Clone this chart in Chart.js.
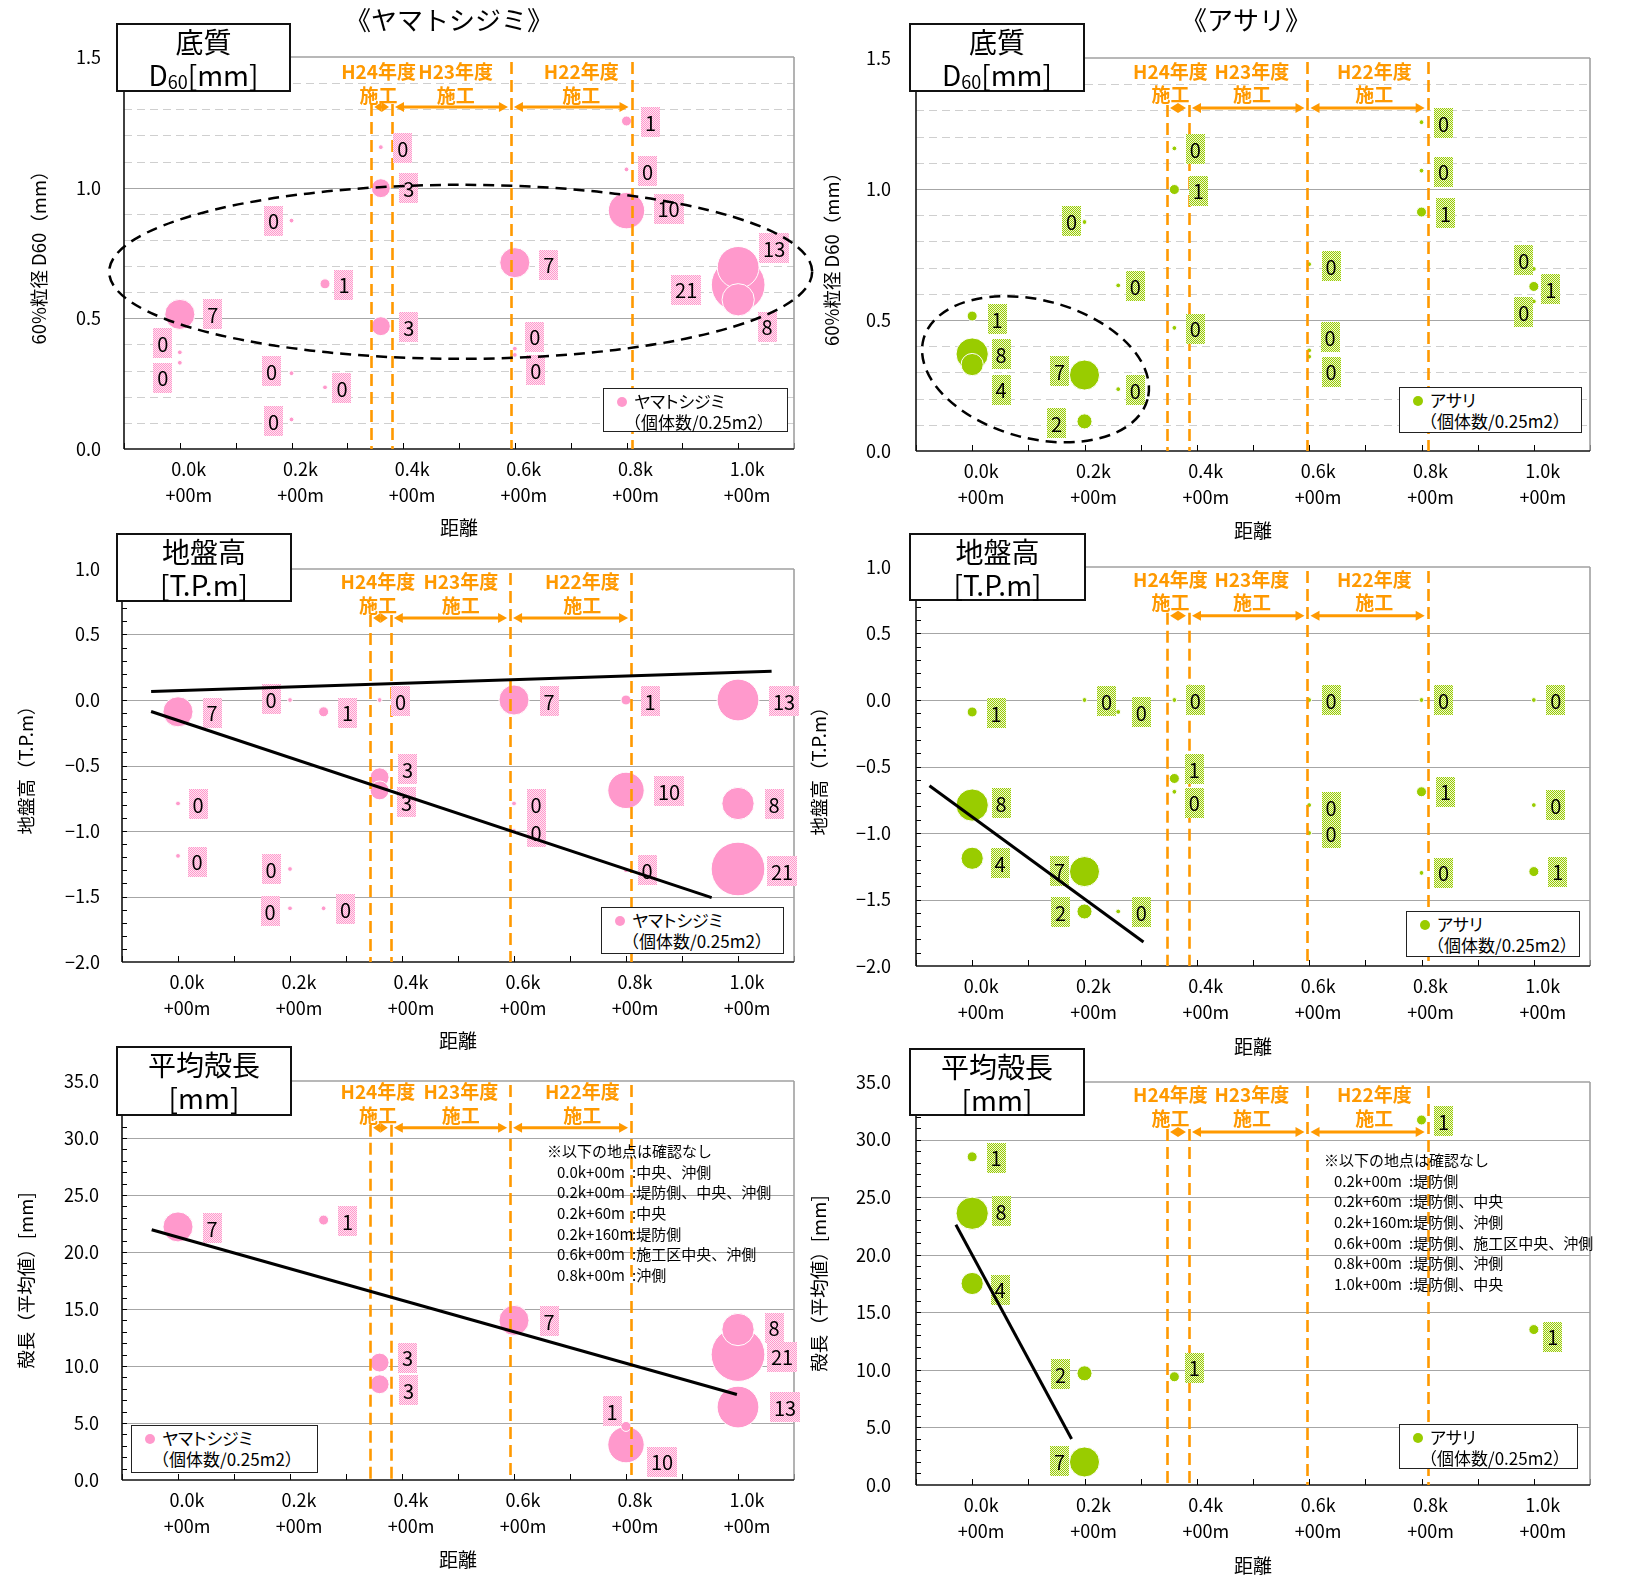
<!DOCTYPE html>
<html lang="ja">
<head>
<meta charset="utf-8">
<title>ヤマトシジミ・アサリの分布と底質・地盤高・平均殻長</title>
<script src="https://cdn.jsdelivr.net/npm/chart.js@4.4.1/dist/chart.umd.min.js"></script>
<style>
  html, body { margin:0; padding:0; background:#fff; }
  body { position:relative; width:1631px; height:1578px; overflow:hidden;
         font-family:"Noto Sans CJK JP", sans-serif; color:#000; }
  canvas { position:absolute; }
  .species { position:absolute; top:4px; width:320px; text-align:center; font-size:26px; line-height:30px; }
  .tbox { position:absolute; box-sizing:border-box; border:2.5px solid #111; background:#fff;
          font-size:28px; line-height:32.5px; text-align:center; z-index:2; }
  .tbox sub { font-size:18px; vertical-align:-3px; line-height:0; }
  .leg { position:absolute; box-sizing:border-box; border:1.5px solid #222; background:#fff; z-index:2;
         font-size:17px; line-height:21px; }
  .leg .dot { position:absolute; left:13px; top:8px; width:10px; height:10px; border-radius:50%; }
  .leg .l1 { position:absolute; left:30px; top:1px; white-space:nowrap; font-feature-settings:"palt"; }
  .leg .l2 { position:absolute; left:20px; top:22px; white-space:nowrap; }
  .note { position:absolute; font-size:15px; line-height:20.7px; white-space:nowrap; z-index:2; }
  .note .row { position:relative; height:20.7px; }
  .note .k { position:absolute; left:10px; }
  .note .v { position:absolute; left:85px; }
</style>
</head>
<body>

<canvas id="cTL" width="830" height="545" style="left:0;top:0"></canvas>
<canvas id="cTR" width="841" height="545" style="left:790px;top:0"></canvas>
<canvas id="cML" width="830" height="530" style="left:0;top:530px"></canvas>
<canvas id="cMR" width="841" height="530" style="left:790px;top:530px"></canvas>
<canvas id="cBL" width="830" height="538" style="left:0;top:1040px"></canvas>
<canvas id="cBR" width="841" height="538" style="left:790px;top:1040px"></canvas>

<div class="species" style="left:289px">《ヤマトシジミ》</div>
<div class="species" style="left:1086px">《アサリ》</div>

<div class="tbox" style="left:116px;top:23px;width:175px;height:69px"><div>底質</div><div>D<sub>60</sub>[mm]</div></div>
<div class="tbox" style="left:909px;top:23px;width:176px;height:69px"><div>底質</div><div>D<sub>60</sub>[mm]</div></div>
<div class="tbox" style="left:116px;top:533px;width:176px;height:69px"><div>地盤高</div><div>[T.P.m]</div></div>
<div class="tbox" style="left:909px;top:533px;width:177px;height:68px"><div>地盤高</div><div>[T.P.m]</div></div>
<div class="tbox" style="left:116px;top:1046px;width:176px;height:70px"><div>平均殻長</div><div>[mm]</div></div>
<div class="tbox" style="left:909px;top:1048px;width:176px;height:68px"><div>平均殻長</div><div>[mm]</div></div>

<div class="leg" style="left:603px;top:388px;width:185px;height:44px"><span class="dot" style="background:#ff99cc"></span><div class="l1">ヤマトシジミ</div><div class="l2">（個体数/0.25m2）</div></div>
<div class="leg" style="left:1399px;top:387px;width:183px;height:46px"><span class="dot" style="background:#99cc00"></span><div class="l1">アサリ</div><div class="l2">（個体数/0.25m2）</div></div>
<div class="leg" style="left:601px;top:907px;width:183px;height:47px"><span class="dot" style="background:#ff99cc"></span><div class="l1">ヤマトシジミ</div><div class="l2">（個体数/0.25m2）</div></div>
<div class="leg" style="left:1406px;top:911px;width:174px;height:46px"><span class="dot" style="background:#99cc00"></span><div class="l1">アサリ</div><div class="l2">（個体数/0.25m2）</div></div>
<div class="leg" style="left:131px;top:1425px;width:187px;height:48px"><span class="dot" style="background:#ff99cc"></span><div class="l1">ヤマトシジミ</div><div class="l2">（個体数/0.25m2）</div></div>
<div class="leg" style="left:1399px;top:1424px;width:179px;height:45px"><span class="dot" style="background:#99cc00"></span><div class="l1">アサリ</div><div class="l2">（個体数/0.25m2）</div></div>

<div class="note" style="left:547px;top:1141px">
  <div>※以下の地点は確認なし</div>
  <div class="row"><span class="k">0.0k+00m</span><span class="v">:中央、沖側</span></div>
  <div class="row"><span class="k">0.2k+00m</span><span class="v">:堤防側、中央、沖側</span></div>
  <div class="row"><span class="k">0.2k+60m</span><span class="v">:中央</span></div>
  <div class="row"><span class="k">0.2k+160m</span><span class="v">:堤防側</span></div>
  <div class="row"><span class="k">0.6k+00m</span><span class="v">:施工区中央、沖側</span></div>
  <div class="row"><span class="k">0.8k+00m</span><span class="v">:沖側</span></div>
</div>
<div class="note" style="left:1324px;top:1150px">
  <div>※以下の地点は確認なし</div>
  <div class="row"><span class="k">0.2k+00m</span><span class="v">:堤防側</span></div>
  <div class="row"><span class="k">0.2k+60m</span><span class="v">:堤防側、中央</span></div>
  <div class="row"><span class="k">0.2k+160m</span><span class="v">:堤防側、沖側</span></div>
  <div class="row"><span class="k">0.6k+00m</span><span class="v">:堤防側、施工区中央、沖側</span></div>
  <div class="row"><span class="k">0.8k+00m</span><span class="v">:堤防側、沖側</span></div>
  <div class="row"><span class="k">1.0k+00m</span><span class="v">:堤防側、中央</span></div>
</div>

<script>
// ---- survey stations (distance in km), one entry per station ----
const stationKm = [0.0, 0.0, 0.0, 0.2, 0.2, 0.2, 0.26, 0.26, 0.36, 0.36, 0.36,
                   0.6, 0.6, 0.6, 0.8, 0.8, 0.8, 1.0, 1.0, 1.0];
// 60% grain size D60 (mm)
const d60Mm = [0.515, 0.37, 0.33, 0.874, 0.29, 0.113, 0.632, 0.236, 1.155, 0.998, 0.47,
               0.713, 0.384, 0.36, 1.255, 1.07, 0.912, 0.695, 0.628, 0.571];
// ground height (T.P.m)
const groundTPm = [-0.09, -0.79, -1.19, 0.0, -1.29, -1.59, -0.09, -1.59, 0.0, -0.59, -0.69,
                   0.0, -0.79, -1.0, 0.0, -1.30, -0.69, 0.0, -1.29, -0.79];
// individuals per 0.25 m2
const shijimiCount = [7, 0, 0, 0, 0, 0, 1, 0, 0, 3, 3, 7, 0, 0, 1, 0, 10, 13, 21, 8];
const asariCount   = [1, 8, 4, 0, 7, 2, 0, 0, 0, 1, 0, 0, 0, 0, 0, 0, 1, 0, 1, 0];
// mean shell length (mm); null where no individuals were found
const shijimiShellMm = [22.2, null, null, null, null, null, 22.8, null, null, 10.3, 8.4,
                        14.0, null, null, 4.7, null, 3.1, 6.4, 11.0, 13.2];
const asariShellMm   = [28.5, 23.6, 17.5, null, 2.0, 9.7, null, null, null, 9.4, null,
                        null, null, null, null, null, 31.7, null, 13.5, null];

// trend lines (two end points each)
const trendShijimiTPUpperKm = [-0.048, 1.06],  trendShijimiTPUpperY = [0.065, 0.22];
const trendShijimiTPLowerKm = [-0.048, 0.953], trendShijimiTPLowerY = [-0.088, -1.509];
const trendAsariTPKm        = [-0.076, 0.305], trendAsariTPY        = [-0.645, -1.82];
const trendShijimiShellKm   = [-0.047, 0.998], trendShijimiShellY   = [21.95, 7.5];
const trendAsariShellKm     = [-0.029, 0.177], trendAsariShellY     = [22.6, 4.0];

// axis ticks
const xTickKm    = [0.0, 0.2, 0.4, 0.6, 0.8, 1.0];
const d60Ticks   = [0.0, 0.5, 1.0, 1.5];
const tpTicks    = [-2.0, -1.5, -1.0, -0.5, 0.0, 0.5, 1.0];
const shellTicks = [0, 5, 10, 15, 20, 25, 30, 35];

// construction section boundaries (km) and their captions
const constructionKmL = [0.343, 0.38, 0.593, 0.809];
const constructionKmR = [0.347, 0.386, 0.597, 0.811];
const constructionYears = ['H24年度', 'H23年度', 'H22年度'];

// ---- styling / layout ----
const PINK = '#ff99cc', GREEN = '#99cc00', ORANGE = '#ff9900';
const FONT = '"Noto Sans CJK JP", sans-serif';
Chart.defaults.font.family = FONT;
Chart.defaults.color = '#000';

// label box offsets (px) from each bubble, per panel, in station order
const shiftTL = [[33,0],[-17,-9],[-17,15],[-18,0],[-20,-2],[-18,2],[19,1],[17,1],[22,1],[28,0],[28,1],
                 [34,2],[20,-12],[21,15],[24,1],[21,2],[42,-2],[36,-19],[-52,5],[29,27]];
const shiftTR = [[25,3],[29,0],[29,25],[-13,-1],[-25,-4],[-28,2],[17,1],[17,1],[21,1],[24,1],[21,1],
                 [22,2],[21,-13],[22,15],[22,1],[22,1],[24,1],[-10,-9],[17,3],[-10,11]];
const shiftML = [[34,1],[20,1],[19,6],[-19,-1],[-19,0],[-20,3],[24,1],[22,1],[21,1],[28,-8],[27,12],
                 [35,1],[22,1],[22,1],[24,1],[21,0],[43,1],[46,1],[44,2],[36,1]];
const shiftMR = [[24,1],[29,-2],[28,5],[22,1],[-25,-1],[-24,1],[23,0],[23,1],[21,0],[20,-9],[20,11],
                 [22,0],[22,2],[22,0],[22,0],[22,0],[24,0],[22,0],[24,0],[22,0]];
const shiftBL = [[34,1],null,null,null,null,null,[24,1],null,null,[28,-5],[29,6],
                 [35,1],null,null,[-14,-15],null,[36,17],[47,0],[44,2],[36,-2]];
const shiftBR = [[24,1],[29,-2],[28,6],null,[-25,-1],[-24,1],null,null,null,[20,-9],null,
                 null,null,null,null,null,[22,1],null,[19,7],null];

function bubbleRadius(n) { return n > 0 ? 6.1 * Math.sqrt(n) - 1.1 : 2.4; }

function hatchPattern(ctx, c1, c2) {
  const p = document.createElement('canvas');
  p.width = 2; p.height = 2;
  const g = p.getContext('2d');
  g.fillStyle = c2; g.fillRect(0, 0, 2, 2);
  g.fillStyle = c1; g.fillRect(0, 0, 1, 1); g.fillRect(1, 1, 1, 1);
  return ctx.createPattern(p, 'repeat');
}

function hline(ctx, x1, x2, y) { ctx.beginPath(); ctx.moveTo(x1, y); ctx.lineTo(x2, y); ctx.stroke(); }
function vline(ctx, x, y1, y2) { ctx.beginPath(); ctx.moveTo(x, y1); ctx.lineTo(x, y2); ctx.stroke(); }

// gridlines, tick marks and plot frame
function drawFrame(chart, p) {
  const { ctx, chartArea: a, scales: { x, y } } = chart;
  ctx.save();
  const n = Math.round((p.yMax - p.yMin) / p.yMinor);
  for (let k = 1; k < n; k++) {
    const v = p.yMin + k * p.yMinor;
    const major = Math.abs(v / p.yMajor - Math.round(v / p.yMajor)) < 1e-6;
    const py = Math.round(y.getPixelForValue(v)) + 0.5;
    if (major) { ctx.setLineDash([]); ctx.strokeStyle = '#a6a6a6'; ctx.lineWidth = 1.2; }
    else if (p.minorGrid) { ctx.setLineDash([8, 5]); ctx.strokeStyle = '#cfcfcf'; ctx.lineWidth = 1; }
    else continue;
    hline(ctx, a.left, a.right, py);
  }
  ctx.setLineDash([]);
  ctx.strokeStyle = '#000'; ctx.lineWidth = 1;
  if (p.yTickMarks) {
    for (let k = 1; k < n; k++) {
      const py = Math.round(y.getPixelForValue(p.yMin + k * p.yMinor)) + 0.5;
      hline(ctx, a.left, a.left + 5, py);
    }
  }
  for (let k = 0; k <= 12; k++) {
    const px = Math.round(x.getPixelForValue(-0.1 + k * 0.1)) + 0.5;
    vline(ctx, px, a.bottom, a.bottom - 6);
  }
  ctx.strokeStyle = '#a0a0a0'; ctx.lineWidth = 1.6;
  hline(ctx, a.left, a.right, a.top);
  vline(ctx, a.right, a.top, a.bottom);
  ctx.strokeStyle = '#111'; ctx.lineWidth = 1.6;
  vline(ctx, a.left, a.top, a.bottom);
  hline(ctx, a.left, a.right, a.bottom);
  ctx.restore();
}

function arrow(ctx, x1, x2, y) {
  const L = Math.min(9, (x2 - x1) / 2), W = 5;
  ctx.lineWidth = 3;
  hline(ctx, x1 + L - 1, x2 - L + 1, y);
  ctx.beginPath(); ctx.moveTo(x1, y); ctx.lineTo(x1 + L, y - W); ctx.lineTo(x1 + L, y + W); ctx.closePath(); ctx.fill();
  ctx.beginPath(); ctx.moveTo(x2, y); ctx.lineTo(x2 - L, y - W); ctx.lineTo(x2 - L, y + W); ctx.closePath(); ctx.fill();
}

// construction sections: dashed boundaries, arrows and captions
function drawConstruction(chart, p) {
  const { ctx, chartArea: a, scales: { x } } = chart;
  const c = p.construction;
  ctx.save();
  ctx.strokeStyle = ORANGE; ctx.fillStyle = ORANGE;
  ctx.lineWidth = 2.6; ctx.setLineDash([12, 6]);
  c.km.forEach((km, j) => {
    const px = Math.round(x.getPixelForValue(km)) + 0.5;
    vline(ctx, px, a.top + (j < 2 ? c.aY - 3 : c.lineTop), a.bottom);
  });
  ctx.setLineDash([]);
  for (let j = 0; j < 3; j++) {
    arrow(ctx, x.getPixelForValue(c.km[j]) + 3, x.getPixelForValue(c.km[j + 1]) - 3, a.top + c.aY);
  }
  ctx.font = 'bold 19px ' + FONT;
  ctx.textAlign = 'center'; ctx.textBaseline = 'middle';
  constructionYears.forEach((t, j) => {
    const px = x.getPixelForValue(c.textKm[j]);
    ctx.fillText(t, px, a.top + c.hY);
    ctx.fillText('施工', px, a.top + c.kY);
  });
  ctx.restore();
}

// count labels in hatched boxes next to each bubble
function drawCountLabels(chart, p) {
  const { ctx } = chart;
  const meta = chart.getDatasetMeta(0);
  const pts = chart.data.datasets[0].data;
  const pat = hatchPattern(ctx, p.color, p.hatchLight);
  ctx.save();
  ctx.font = '20px ' + FONT;
  ctx.textAlign = 'center'; ctx.textBaseline = 'middle';
  meta.data.forEach((el, j) => {
    const i = pts[j].i;
    const s = p.labelShift[i];
    if (!s) return;
    const txt = String(p.counts[i]);
    const w = txt.length > 1 ? 30 : 19, h = 30;
    const cx = el.x + s[0], cy = el.y + s[1];
    ctx.fillStyle = pat;
    ctx.fillRect(Math.round(cx - w / 2), Math.round(cy - h / 2), w, h);
    ctx.fillStyle = '#000';
    ctx.fillText(txt, cx, cy + 1);
  });
  ctx.restore();
}

function drawEllipse(chart, e) {
  const { ctx, scales: { x, y } } = chart;
  ctx.save();
  ctx.strokeStyle = '#000'; ctx.lineWidth = 2.5; ctx.setLineDash([11, 7]);
  ctx.beginPath();
  ctx.ellipse(x.getPixelForValue(e.km), y.getPixelForValue(e.y), e.rx, e.ry, e.rot * Math.PI / 180, 0, 2 * Math.PI);
  ctx.stroke();
  ctx.restore();
}

function overlayPlugin(p) {
  return {
    id: 'overlay',
    beforeDatasetsDraw(chart) { drawFrame(chart, p); },
    afterDatasetDraw(chart, args) {
      if (args.index === 0) { drawConstruction(chart, p); drawCountLabels(chart, p); }
    },
    afterDatasetsDraw(chart) { if (p.ellipse) drawEllipse(chart, p.ellipse); }
  };
}

const fmt = (v, d) => v.toFixed(d).replace('-', '−');

function buildPanel(p) {
  const pts = [];
  stationKm.forEach((km, i) => {
    const v = p.values[i];
    if (v === null || v === undefined) return;
    pts.push({ x: km, y: v, r: bubbleRadius(p.counts[i]), i });
  });
  pts.sort((a, b) => b.r - a.r);   // larger bubbles underneath
  const datasets = [{
    type: 'bubble', data: pts, backgroundColor: p.color, borderColor: '#fff',
    borderWidth: 1, order: 2, clip: false
  }];
  p.trends.forEach(t => datasets.push({
    type: 'line', data: t.km.map((km, k) => ({ x: km, y: t.y[k] })),
    borderColor: '#000', borderWidth: 3, pointRadius: 0, fill: false, order: 1, clip: false
  }));
  new Chart(document.getElementById(p.id), {
    type: 'bubble',
    data: { datasets },
    options: {
      responsive: false, animation: false, events: [], devicePixelRatio: 1,
      layout: { padding: { left: 0, top: p.area.T, right: p.area.R, bottom: 0 } },
      plugins: { legend: { display: false }, tooltip: { enabled: false } },
      scales: {
        x: {
          type: 'linear', min: -0.1, max: 1.1,
          afterBuildTicks: s => { s.ticks = xTickKm.map(v => ({ value: v })); },
          afterFit: s => { s.height = p.area.xH; },
          grid: { display: false, drawTicks: false }, border: { display: false },
          ticks: {
            autoSkip: false, maxRotation: 0, minRotation: 0, padding: 8, labelOffset: 9,
            font: { size: 18, lineHeight: 1.4 }, color: '#000',
            callback: v => [v.toFixed(1) + 'k', '+00m']
          },
          title: { display: true, text: '距離', color: '#000',
                   font: { size: 19, lineHeight: 1.2 }, padding: { top: 0, bottom: p.xTitlePad } }
        },
        y: {
          type: 'linear', min: p.yMin, max: p.yMax,
          afterBuildTicks: s => { s.ticks = p.yTicks.map(v => ({ value: v })); },
          afterFit: s => { s.width = p.area.L; },
          grid: { display: false, drawTicks: false }, border: { display: false },
          ticks: { autoSkip: false, padding: p.yTickPad, font: { size: 18 }, color: '#000',
                   callback: v => fmt(v, 1) },
          title: { display: true, text: p.yTitle, color: '#000',
                   font: { size: 18.5, lineHeight: 1.2 }, padding: { top: p.yTitlePad - 1, bottom: 0 } }
        }
      }
    },
    plugins: [overlayPlugin(p)]
  });
}

const pinkLight = '#ffe4f1', greenLight = '#eef7d6';
const consL = (hY, kY, aY) => ({ km: constructionKmL, textKm: [0.357, 0.505, 0.722], hY, kY, aY, lineTop: 4 });
const consR = (hY, kY, aY) => ({ km: constructionKmR, textKm: [0.353, 0.498, 0.716], hY, kY, aY, lineTop: 4 });

const panels = [
  { id: 'cTL', values: d60Mm, counts: shijimiCount, color: PINK, hatchLight: pinkLight,
    yMin: 0, yMax: 1.5, yTicks: d60Ticks, yMinor: 0.1, yMajor: 0.5, minorGrid: true, yTickMarks: false,
    yTitle: '60%粒径 D60（mm）', area: { L: 124, R: 36, T: 57, xH: 96 },
    yTitlePad: 29, xTitlePad: 5.6, yTickPad: 23,
    construction: { km: constructionKmL, textKm: [0.356, 0.494, 0.719], hY: 15, kY: 39, aY: 50, lineTop: 5 },
    labelShift: shiftTL, trends: [],
    ellipse: { km: 0.503, y: 0.678, rx: 351.5, ry: 87, rot: 0 } },
  { id: 'cTR', values: d60Mm, counts: asariCount, color: GREEN, hatchLight: greenLight,
    yMin: 0, yMax: 1.5, yTicks: d60Ticks, yMinor: 0.1, yMajor: 0.5, minorGrid: true, yTickMarks: false,
    yTitle: '60%粒径 D60（mm）', area: { L: 126, R: 41, T: 58, xH: 94 },
    yTitlePad: 31.8, xTitlePad: 3.1, yTickPad: 25,
    construction: consR(14, 37, 50),
    labelShift: shiftTR, trends: [],
    ellipse: { km: 0.1128, y: 0.312, rx: 116, ry: 69, rot: 15 } },
  { id: 'cML', values: groundTPm, counts: shijimiCount, color: PINK, hatchLight: pinkLight,
    yMin: -2, yMax: 1, yTicks: tpTicks, yMinor: 0.1, yMajor: 0.5, minorGrid: false, yTickMarks: true,
    yTitle: '地盤高（T.P.m）', area: { L: 122, R: 36, T: 39, xH: 98 },
    yTitlePad: 15.8, xTitlePad: 7.6, yTickPad: 22,
    construction: consL(12.5, 36.4, 49),
    labelShift: shiftML,
    trends: [{ km: trendShijimiTPUpperKm, y: trendShijimiTPUpperY },
             { km: trendShijimiTPLowerKm, y: trendShijimiTPLowerY }] },
  { id: 'cMR', values: groundTPm, counts: asariCount, color: GREEN, hatchLight: greenLight,
    yMin: -2, yMax: 1, yTicks: tpTicks, yMinor: 0.1, yMajor: 0.5, minorGrid: false, yTickMarks: true,
    yTitle: '地盤高（T.P.m）', area: { L: 126, R: 41, T: 37, xH: 94 },
    yTitlePad: 18.4, xTitlePad: 2.1, yTickPad: 25,
    construction: consR(12.4, 35.3, 48.8),
    labelShift: shiftMR,
    trends: [{ km: trendAsariTPKm, y: trendAsariTPY }] },
  { id: 'cBL', values: shijimiShellMm, counts: shijimiCount, color: PINK, hatchLight: pinkLight,
    yMin: 0, yMax: 35, yTicks: shellTicks, yMinor: 1, yMajor: 5, minorGrid: false, yTickMarks: true,
    yTitle: '殻長（平均値）[mm]', area: { L: 122, R: 36, T: 41, xH: 98 },
    yTitlePad: 15.8, xTitlePad: 6.6, yTickPad: 23,
    construction: consL(10.4, 34.3, 46.8),
    labelShift: shiftBL,
    trends: [{ km: trendShijimiShellKm, y: trendShijimiShellY }] },
  { id: 'cBR', values: asariShellMm, counts: asariCount, color: GREEN, hatchLight: greenLight,
    yMin: 0, yMax: 35, yTicks: shellTicks, yMinor: 1, yMajor: 5, minorGrid: false, yTickMarks: true,
    yTitle: '殻長（平均値）[mm]', area: { L: 126, R: 41, T: 42, xH: 93 },
    yTitlePad: 18.4, xTitlePad: 1.1, yTickPad: 25,
    construction: consR(12.5, 36.4, 49.9),
    labelShift: shiftBR,
    trends: [{ km: trendAsariShellKm, y: trendAsariShellY }] }
];

panels.forEach(buildPanel);
</script>
</body>
</html>
